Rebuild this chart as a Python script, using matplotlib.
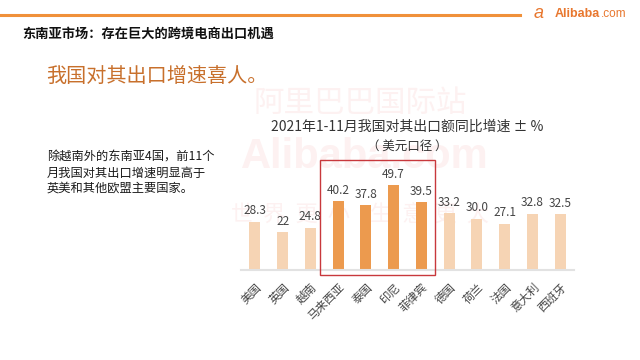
import matplotlib
matplotlib.use('Agg')
import matplotlib.pyplot as plt
from matplotlib.patches import Rectangle

plt.rcParams['font.family'] = ['Noto Sans CJK SC', 'DejaVu Sans']

# data
countries = ['美国', '英国', '越南', '马来西亚', '泰国', '印尼', '菲律宾',
             '德国', '荷兰', '法国', '意大利', '西班牙']
growth = [28.3, 22, 24.8, 40.2, 37.8, 49.7, 39.5, 33.2, 30.0, 27.1, 32.8, 32.5]
value_labels = ['28.3', '22', '24.8', '40.2', '37.8', '49.7', '39.5',
                '33.2', '30.0', '27.1', '32.8', '32.5']
highlight = [3, 4, 5, 6]  # SE Asia except Vietnam

light = '#f6d4b4'
strong = '#ec9a4e'

fig = plt.figure(figsize=(6.4, 3.6), dpi=100)
fig.patch.set_facecolor('white')

# header line + logo
fig.add_artist(plt.Line2D([0, 520/640], [1-15/360, 1-15/360], color='#f0913a', lw=2.2))
fig.text(555/640, 1-14/360, 'Alibaba', color='#e8772e', fontsize=9, fontweight='bold',
         va='center', ha='left', family=['Liberation Sans', 'DejaVu Sans'])
fig.text(601/640, 1-14/360, '.com', color='#e8772e', fontsize=8.5,
         va='center', ha='left', family=['Liberation Sans', 'DejaVu Sans'])
fig.text(534/640, 1-14/360, 'a', color='#e8772e', fontsize=13, style='italic',
         va='center', ha='left', family=['Liberation Sans', 'DejaVu Sans'])

fig.text(22/640, 1-34/360, '东南亚市场：存在巨大的跨境电商出口机遇', fontsize=9.5,
         fontweight='bold', color='#111111', va='center')
fig.text(46/640, 1-77/360, '我国对其出口增速喜人。', fontsize=14.5, color='#c8702c', va='center')

# faint watermark behind the chart
wm = '#fdf1f1'
fig.text(360/640, 1-103/360, '阿里巴巴国际站', fontsize=22, color=wm, ha='center', va='center', zorder=-1)
fig.text(365/640, 1-157/360, 'Alibaba.com', fontsize=30, color=wm, ha='center', va='center',
         fontweight='bold', family=['Liberation Sans', 'DejaVu Sans'], zorder=-1)
fig.text(360/640, 1-215/360, '世  界  更  小    生  意  更  大', fontsize=16, color=wm,
         ha='center', va='center', zorder=-1)

fig.text(47/640, 1-173/360, '除越南外的东南亚4国，前11个\n月我国对其出口增速明显高于\n英美和其他欧盟主要国家。',
         fontsize=8.8, color='#1a1a1a', va='center', ha='left', linespacing=1.25)

# chart
ax = fig.add_axes([241/640, 90/360, 333/640, 110/360])
ax.set_facecolor('none')
x = list(range(len(countries)))
colors = [strong if i in highlight else light for i in x]
ax.bar(x, growth, width=0.4, color=colors, zorder=2)
for i, v in enumerate(growth):
    ax.text(i, v + 2.6, value_labels[i], ha='center', va='bottom', fontsize=8.5, color='#444444')

ax.set_xlim(-0.5, len(countries) - 0.5)
ax.set_ylim(0, 64.3)
ax.set_yticks([])
ax.set_xticks(x)
ax.set_xticklabels(countries, rotation=45, ha='right', rotation_mode='anchor',
                   fontsize=8.3, color='#444444')
ax.tick_params(axis='x', length=0, pad=8)
for s in ['top', 'left', 'right']:
    ax.spines[s].set_visible(False)
ax.spines['bottom'].set_color('#e2e2e2')
ax.spines['bottom'].set_linewidth(1.5)

box = Rectangle((min(highlight) - 0.65, -2.9), max(highlight) - min(highlight) + 1.15, 67.2,
                fill=False, edgecolor='#c8383c', lw=1.0, clip_on=False, zorder=3)
ax.add_patch(box)

fig.text(407/640, 1-127/360, '2021年1-11月我国对其出口额同比增速 ± %', fontsize=10,
         color='#333333', ha='center', va='center')
fig.text(407/640, 1-146/360, '（ 美元口径 ）', fontsize=9, color='#333333', ha='center', va='center')

fig.savefig('out.png', dpi=100)
